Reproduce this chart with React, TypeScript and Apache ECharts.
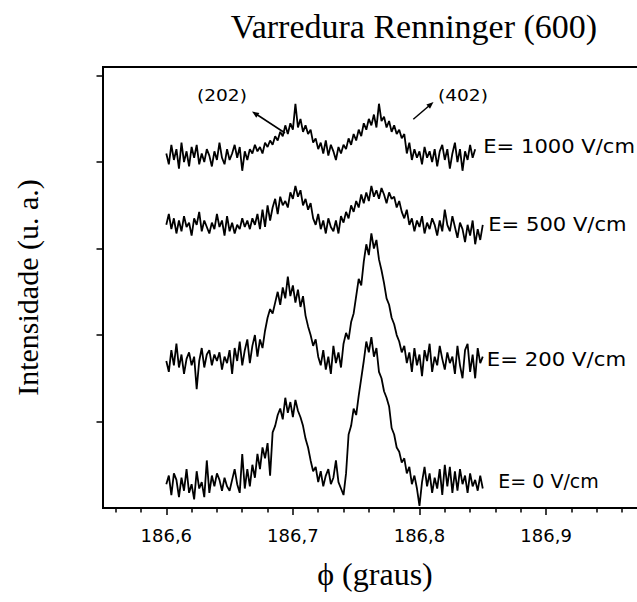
import React, { useEffect, useRef } from "react";
import * as echarts from "echarts";

// Scan start and step (degrees) of the Renninger scan
const PHI_START = 186.6;
const PHI_STEP = 0.002;

const X_TICKS_MAJOR = [186.6, 186.7, 186.8, 186.9];
const X_TICKS_MINOR = [186.56, 186.58, 186.62, 186.64, 186.66, 186.68, 186.72, 186.74, 186.76, 186.78, 186.82, 186.84, 186.86, 186.88, 186.92, 186.94, 186.96, 186.98];
const Y_TICKS_MAJOR = [20, 40, 60, 80, 100];
const Y_TICKS_MINOR = [10, 30, 50, 70, 90];

const SERIES_NAMES = ["E= 0 V/cm", "E= 200 V/cm", "E= 500 V/cm", "E= 1000 V/cm"];

const E0 = [
  5.5, 7.5, 3.0, 8.0, 6.5, 2.5, 7.0, 4.0, 9.0, 3.5, 5.5, 2.0, 8.5, 4.5, 6.0, 2.5, 11.0, 3.5, 7.5, 5.0,
  8.0, 6.5, 4.0, 7.0, 5.0, 4.0, 6.5, 9.0, 5.5, 3.5, 12.5, 4.5, 9.0, 5.0,
  10.0, 7.0, 12.5, 9.0, 14.0, 11.5, 15.0, 7.5, 17.5, 19.0, 21.5, 23.0, 20.5, 25.5, 22.0, 24.5,
  21.0, 25.0, 22.5, 21.0, 19.0, 16.0, 14.0, 11.0, 8.5,
  9.5, 6.0, 8.5, 5.0, 7.5, 9.0, 5.5, 7.0, 11.0, 6.0, 4.5, 3.0, 8.0,
  17.0, 19.0, 23.0, 21.5, 26.0, 30.0, 34.0, 38.5, 36.0, 39.5, 35.0, 37.0, 31.5, 30.0, 27.0, 25.5,
  23.5, 18.5, 17.0, 14.0, 13.0, 10.5, 11.5, 8.0, 9.5, 5.5, 7.5, 4.5,
  0.5, 6.0, 9.5, 5.0, 8.0, 3.5, 7.0, 4.5, 9.0, 3.0, 10.0, 5.0, 9.5, 3.5, 8.5, 4.0, 9.0, 5.5, 7.5, 3.5,
  8.0, 5.0, 6.5, 4.0, 7.5, 4.5,
];

const E200 = [
  34.0, 31.5, 36.5, 33.0, 38.0, 32.5, 35.5, 31.0, 34.5, 36.0, 33.0, 35.0, 27.5, 34.0, 37.0, 32.5, 35.5, 36.5, 33.0, 35.5,
  34.0, 36.0, 32.0, 35.0, 33.5, 36.5, 31.0, 37.0, 34.0, 38.5, 33.0, 36.5, 39.0, 33.5, 37.5, 40.0, 35.0, 39.0, 37.0, 41.0,
  44.0, 46.0, 45.0, 47.5, 50.0, 47.0, 51.0, 48.5, 53.5, 49.0, 51.5, 47.5, 50.5, 46.5, 49.0, 44.5, 42.0, 40.0, 37.5, 39.0,
  35.0, 33.0, 36.5, 32.0, 35.0, 31.0, 37.5, 33.5, 36.0, 32.5, 38.0, 40.5, 39.0, 43.0, 45.0, 49.0, 53.0, 51.5, 57.0, 61.0,
  58.5, 63.5, 60.0, 62.0, 57.5, 55.0, 52.0, 48.5, 47.0, 44.0, 42.5, 40.0, 38.5, 36.0, 37.5, 33.5, 36.0, 31.5, 37.0, 33.0,
  35.5, 30.5, 36.5, 34.0, 38.0, 31.5, 35.0, 33.0, 37.5, 34.5, 32.0, 36.0, 33.5, 35.0, 31.0, 37.5, 33.0, 30.0, 36.5, 38.0,
  31.5, 35.5, 30.0, 37.0, 33.5, 35.0,
];

const E500 = [
  65.5, 68.0, 64.5, 67.0, 63.5, 66.5, 64.0, 67.5, 65.0, 66.0, 63.0, 67.0, 65.5, 68.5, 64.0, 66.5, 65.0, 63.5, 66.0, 64.5,
  68.0, 65.0, 66.5, 63.0, 67.5, 64.0, 66.0, 63.5, 65.5, 64.5, 67.0, 65.0, 66.5, 64.5, 67.0, 65.5, 68.0, 64.5, 69.0, 65.0,
  70.0, 66.5, 69.5, 71.5, 68.0, 72.0, 70.0, 71.0, 69.5, 73.0, 71.5, 74.5, 72.0, 73.5, 70.0, 71.5, 69.0, 70.5, 67.0, 65.5,
  68.0, 64.5, 66.5, 63.5, 67.0, 65.0, 64.0, 66.5, 63.5, 67.5, 66.0, 68.5, 67.0, 70.0, 68.5, 71.0, 69.5, 72.5, 70.5, 73.0,
  71.0, 74.5, 72.0, 73.5, 71.5, 74.0, 72.5, 70.5, 73.0, 71.5, 72.0, 69.5, 71.0, 68.5, 67.0, 69.0, 65.5, 67.0, 64.0, 66.5,
  65.0, 67.5, 63.5, 66.0, 64.5, 67.0, 65.5, 63.0, 66.5, 64.0, 69.0, 65.5, 64.0, 67.5, 65.0, 62.5, 66.0, 64.5, 61.5, 65.5,
  63.0, 66.5, 61.0, 64.5, 62.0, 65.5,
];

const E1000 = [
  82.0, 79.5, 84.0, 80.5, 83.0, 78.5, 84.5, 80.0, 82.5, 79.0, 83.5, 81.0, 84.0, 79.5, 82.0, 80.0, 83.0, 81.5, 79.0, 82.5,
  80.5, 84.5, 81.0, 79.5, 83.0, 80.5, 82.0, 84.0, 81.0, 83.5, 78.0, 82.5, 80.5, 83.0, 82.0, 84.0, 82.5, 83.5, 82.0, 84.5,
  83.5, 85.0, 84.0, 86.0, 85.0, 87.0, 86.0, 88.5, 86.5, 89.0, 87.5, 93.5, 88.0, 90.0, 87.0, 88.5, 86.5, 87.5, 84.5, 85.5,
  83.0, 84.5, 82.0, 85.0, 81.5, 84.0, 82.5, 80.5, 83.5, 82.0, 84.0, 83.0, 85.5, 84.0, 86.5, 85.0, 87.5, 86.0, 89.0, 87.5,
  90.0, 88.5, 91.0, 88.0, 93.5, 89.5, 90.5, 88.0, 89.5, 87.0, 88.5, 86.5, 87.5, 85.5, 86.5, 82.0, 84.5, 80.5, 83.0, 81.0,
  82.5, 79.5, 83.5, 81.0, 82.5, 80.0, 83.0, 79.0, 82.5, 84.0, 80.5, 83.0, 78.5, 82.0, 84.5, 80.0, 83.0, 78.0, 82.5, 80.5,
  84.0, 81.0, 83.0,
];

const toPoints = (arr: number[]) =>
  arr.map((v, i) => [Number((PHI_START + i * PHI_STEP).toFixed(3)), v]);

const labelText = (text: string, x: number, y: number, size: number, sx: number) => ({
  type: "text",
  x,
  y,
  scaleX: sx,
  silent: true,
  style: {
    text,
    fill: "#000",
    fontSize: size,
    fontFamily: "DejaVu Sans",
    textAlign: "left",
    textVerticalAlign: "middle",
    align: "left",
    verticalAlign: "middle",
  },
});

export default function App() {
  const ref = useRef<HTMLDivElement>(null);
  useEffect(() => {
    if (!ref.current) return;
    const chart = echarts.init(ref.current, null, { renderer: "svg" });
    const serif = "'Liberation Serif', 'Times New Roman', serif";
    const sans = "'DejaVu Sans', sans-serif";
    const dataSets = [E0, E200, E500, E1000];
    chart.setOption({
      animation: false,
      backgroundColor: "#fff",
      title: {
        text: "Varredura Renninger (600)",
        left: 409,
        top: 4,
        textAlign: "center",
        textStyle: { fontFamily: serif, fontSize: 34, fontWeight: "normal", color: "#000" },
      },
      grid: {
        left: 103,
        right: -23,
        top: 67,
        bottom: 94,
        show: true,
        borderColor: "#000",
        borderWidth: 2,
        backgroundColor: "transparent",
        containLabel: false,
        outerBoundsMode: "none",
      },
      xAxis: [
        {
          type: "value",
          min: 186.55,
          max: 186.99,
          position: "bottom",
          axisLine: { show: true, onZero: false, lineStyle: { color: "#000", width: 2 } },
          axisTick: { show: true, customValues: X_TICKS_MAJOR, length: 7, lineStyle: { color: "#000", width: 1.5 } },
          axisLabel: {
            show: true,
            customValues: X_TICKS_MAJOR,
            formatter: (v: number) => v.toFixed(1).replace(".", ","),
            fontFamily: sans,
            fontSize: 18,
            color: "#000",
            margin: 18,
          },
          splitLine: { show: false },
          name: "ϕ (graus)",
          nameLocation: "middle",
          nameGap: 50,
          nameTextStyle: { fontFamily: serif, fontSize: 32, color: "#000", padding: [0, 13, 0, 0] },
        },
        {
          type: "value",
          min: 186.55,
          max: 186.99,
          position: "bottom",
          axisLine: { show: false },
          axisTick: { show: true, customValues: X_TICKS_MINOR, length: 4.5, lineStyle: { color: "#000", width: 1.5 } },
          axisLabel: { show: false },
          splitLine: { show: false },
        },
      ],
      yAxis: [
        {
          type: "value",
          min: 0,
          max: 102,
          axisLine: { show: true, onZero: false, lineStyle: { color: "#000", width: 2 } },
          axisTick: { show: true, customValues: Y_TICKS_MAJOR, length: 6.5, lineStyle: { color: "#000", width: 1.5 } },
          axisLabel: { show: false },
          splitLine: { show: false },
          name: "Intensidade (u. a.)",
          nameLocation: "middle",
          nameGap: 61,
          nameTextStyle: { fontFamily: serif, fontSize: 30, color: "#000" },
        },
        {
          type: "value",
          min: 0,
          max: 102,
          axisLine: { show: false },
          axisTick: { show: true, customValues: Y_TICKS_MINOR, length: 3.5, lineStyle: { color: "#000", width: 1.5 } },
          axisLabel: { show: false },
          splitLine: { show: false },
        },
      ],
      series: dataSets.map((d, k) => ({
        name: SERIES_NAMES[k],
        type: "line",
        xAxisIndex: 0,
        yAxisIndex: 0,
        data: toPoints(d),
        showSymbol: false,
        symbol: "none",
        lineStyle: { color: "#000", width: 1.8 },
        emphasis: { disabled: true },
      })),
      graphic: [
        labelText("(202)", 197, 95.5, 16, 1.16),
        labelText("(402)", 438, 95.5, 16, 1.16),
        labelText(SERIES_NAMES[3], 483.3, 146.5, 19, 1.11),
        labelText(SERIES_NAMES[2], 488.3, 224.3, 19, 1.11),
        labelText(SERIES_NAMES[1], 486.7, 359.3, 19, 1.12),
        labelText(SERIES_NAMES[0], 498.3, 481, 19, 1.0),
        { type: "line", silent: true, shape: { x1: 285, y1: 133, x2: 256, y2: 114 }, style: { stroke: "#000", lineWidth: 1.5 } },
        { type: "polygon", silent: true, shape: { points: [[252, 111.5], [259.4, 113.0], [256.3, 117.7]] }, style: { fill: "#000" } },
        { type: "line", silent: true, shape: { x1: 413.3, y1: 119.3, x2: 430, y2: 105 }, style: { stroke: "#000", lineWidth: 1.5 } },
        { type: "polygon", silent: true, shape: { points: [[433.5, 102], [430.0, 108.7], [426.4, 104.5]] }, style: { fill: "#000" } },
      ],
    });
    return () => chart.dispose();
  }, []);
  return (
    <div
      ref={ref}
      style={{ position: "fixed", left: 0, top: 0, width: 637, height: 602, background: "#fff" }}
    />
  );
}
